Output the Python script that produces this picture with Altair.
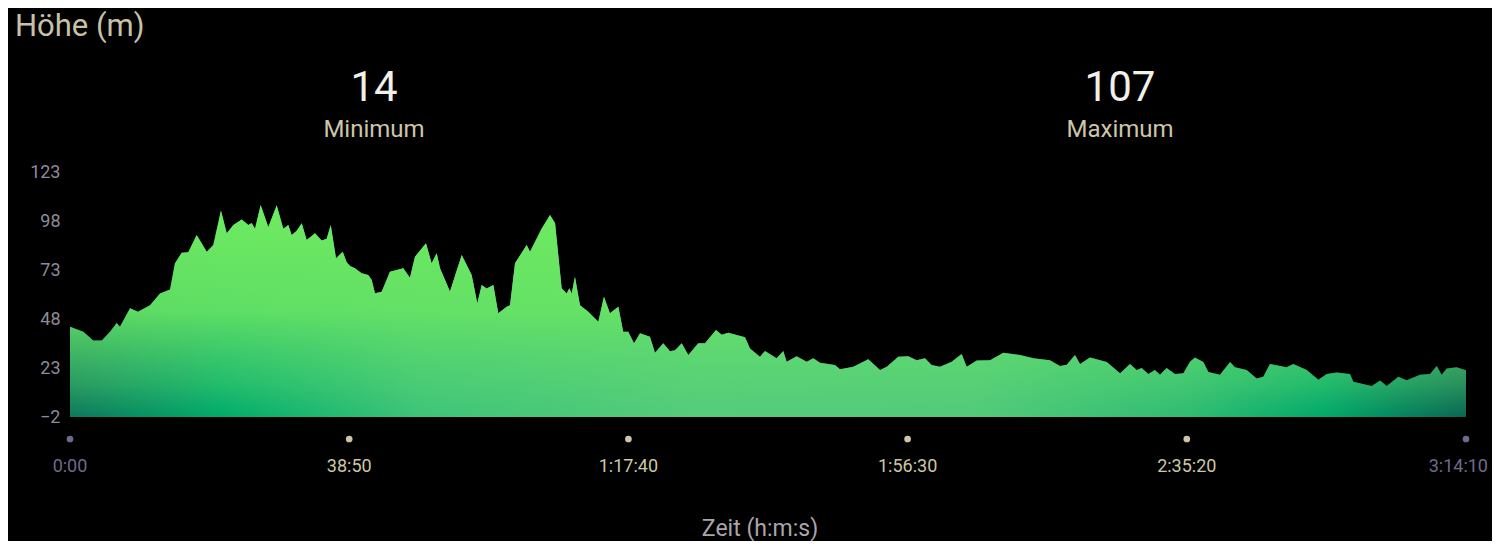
import altair as alt
import pandas as pd

# elapsed time (s) and elevation (m)
time_s = [0, 111, 194, 265, 334, 390, 417, 501, 567, 668, 751, 835, 876, 932, 987, 1057, 1085, 1141, 1196,
          1260, 1308, 1363, 1433, 1488, 1516, 1544, 1591, 1655, 1725, 1780, 1822, 1850, 1892, 1934, 1975,
          2045, 2100, 2142, 2176, 2220, 2276, 2309, 2337, 2378, 2434, 2489, 2518, 2545, 2601, 2670, 2781,
          2837, 2879, 2971, 3018, 3060, 3088, 3171, 3269, 3352, 3399, 3436, 3477, 3533, 3574, 3644, 3672,
          3714, 3811, 3839, 3937, 4006, 4048, 4103, 4145, 4167, 4187, 4214, 4256, 4325, 4409, 4456, 4506,
          4576, 4617, 4659, 4707, 4757, 4840, 4882, 4951, 5007, 5049, 5105, 5160, 5243, 5299, 5391, 5439,
          5494, 5633, 5675, 5758, 5800, 5897, 5953, 5981, 6064, 6148, 6203, 6259, 6384, 6426, 6537, 6662,
          6760, 6816, 6912, 6996, 7066, 7135, 7191, 7260, 7358, 7441, 7483, 7567, 7678, 7789, 7928, 8039,
          8178, 8262, 8318, 8387, 8429, 8512, 8652, 8763, 8846, 8902, 8943, 8999, 9054, 9096, 9152, 9221,
          9291, 9347, 9388, 9458, 9500, 9597, 9681, 9722, 9820, 9903, 9958, 10014, 10153, 10209, 10321,
          10418, 10488, 10571, 10682, 10710, 10863, 10933, 10988, 11085, 11155, 11266, 11350, 11406, 11447,
          11489, 11572, 11650]
elevation = [44, 41.5, 37, 37, 41.5, 46, 44, 53.5, 51.7, 55, 61, 63, 76.4, 81.8, 82, 90.9, 88, 82.3, 85.8,
             103.3, 91.7, 96, 98.8, 96, 97, 94, 106.2, 95, 106, 94, 96, 90.9, 93, 96.8, 88.3,
             91.7, 88, 89, 96, 79, 82.3, 77, 75, 73.9, 71.3, 70.5, 67.9, 61.1, 61.9, 72.1, 73.9,
             69, 79.8, 86.6, 76.4, 81.6, 73.9, 62, 80.7, 70.5, 56, 65.3, 63.6, 65.3, 50.9, 54.3, 55,
             76.4, 85.8, 82.3, 94.2, 101, 96.8, 63.7, 61, 63.7, 61, 69.6, 55, 51.7, 46.6, 59.4, 50.9,
             54.3, 41.5, 41.5, 35.6, 40.7, 39, 30.8, 35.6, 31.6, 32, 35.6, 29.6, 35.6, 35.6, 42.4, 40,
             41, 38.7, 33, 28.8, 31.7, 28, 31.7, 26.2, 29, 26.2, 28, 25.7, 24.5, 22.3, 23.7, 27.5,
             22, 23.6, 28.8, 29, 27, 28, 24.5, 23.6, 26.2, 30.1, 23.6, 26.8, 27, 30.8, 29.6, 28,
             27, 24, 24.6, 29.6, 25, 28.4, 26, 20.3, 25, 22, 23, 20, 22, 19.5, 23, 20,
             20.3, 26.2, 28.4, 26, 21, 19.5, 26, 23.4, 22, 17.7, 18.5, 25, 23.4, 25, 22,
             17, 20, 20.7, 20, 16, 13.8, 16.6, 13.8, 18.5, 16.8, 19.5, 20, 24, 19.5,
             22.7, 23.4, 21.8]

y_ticks = [-2, 23, 48, 73, 98, 123]
x_tick_seconds = [0, 2330, 4660, 6990, 9320, 11650]
x_tick_labels = ["0:00", "38:50", "1:17:40", "1:56:30", "2:35:20", "3:14:10"]
stat_values = ["14", "107"]
stat_names = ["Minimum", "Maximum"]

W, H = 1396, 245
FONT = "Roboto"
BEIGE = "#cdc6a8"
PURPLE = "#6f6a8c"

df = pd.DataFrame({"t": time_s, "elev": elevation})
ticks = pd.DataFrame({"t": x_tick_seconds, "label": x_tick_labels})
ticks["edge"] = (ticks["t"] == x_tick_seconds[0]) | (ticks["t"] == x_tick_seconds[-1])
t_last = x_tick_seconds[-1]

xscale = alt.Scale(domain=[x_tick_seconds[0], x_tick_seconds[-1]], nice=False, zero=False)
yscale = alt.Scale(domain=[y_ticks[0], y_ticks[-1]], nice=False, zero=False)

base_grad = alt.Gradient(
    gradient="linear", x1=0, y1=0, x2=1, y2=0,
    stops=[
        alt.GradientStop(color="#0d785b", offset=0),
        alt.GradientStop(color="#00ac6a", offset=0.11),
        alt.GradientStop(color="#3ec478", offset=0.25),
        alt.GradientStop(color="#55cc7a", offset=0.45),
        alt.GradientStop(color="#52ca7a", offset=0.65),
        alt.GradientStop(color="#30bc72", offset=0.8),
        alt.GradientStop(color="#00a86a", offset=0.9),
        alt.GradientStop(color="#0a6652", offset=1),
    ],
)
top_grad = alt.Gradient(
    gradient="linear", x1=0, y1=0, x2=0, y2=1,
    stops=[
        alt.GradientStop(color="rgba(112,234,96,1)", offset=0),
        alt.GradientStop(color="rgba(104,228,100,0.9)", offset=0.5),
        alt.GradientStop(color="rgba(96,218,112,0.35)", offset=0.85),
        alt.GradientStop(color="rgba(90,210,118,0)", offset=1),
    ],
)

area_base = alt.Chart(df).mark_area(color=base_grad, interpolate="linear").encode(
    x=alt.X("t:Q", scale=xscale, axis=None),
    y=alt.Y("elev:Q", scale=yscale,
            axis=alt.Axis(values=y_ticks, title=None, grid=False, ticks=False, domain=False,
                          labelPadding=10, labelFontSize=18, labelFont=FONT, labelColor="#8e8a9c")),
    y2=alt.datum(y_ticks[0]),
)
area_top = alt.Chart(df).mark_area(color=top_grad, interpolate="linear").encode(
    x=alt.X("t:Q", scale=xscale),
    y=alt.Y("elev:Q", scale=yscale),
    y2=alt.datum(y_ticks[0]),
)

cond_color = alt.condition("datum.edge", alt.value(PURPLE), alt.value(BEIGE))
dots = alt.Chart(ticks).mark_point(filled=True, size=45, opacity=1).encode(
    x=alt.X("t:Q", scale=xscale), y=alt.value(H + 22), color=cond_color)
tick_text = alt.Chart(ticks).transform_filter(f"datum.t < {t_last}").mark_text(
    font=FONT, fontSize=18, baseline="middle").encode(
    x=alt.X("t:Q", scale=xscale), y=alt.value(H + 50), text="label:N", color=cond_color)
tick_text_last = alt.Chart(ticks).transform_filter(f"datum.t >= {t_last}").mark_text(
    font=FONT, fontSize=18, baseline="middle", align="right", dx=22).encode(
    x=alt.X("t:Q", scale=xscale), y=alt.value(H + 50), text="label:N", color=cond_color)

def label(txt, x, y, size, color, align="center", baseline="middle"):
    return alt.Chart(pd.DataFrame({"s": [txt]})).mark_text(
        font=FONT, fontSize=size, color=color, align=align, baseline=baseline).encode(
        x=alt.value(x), y=alt.value(y), text="s:N")

texts = [
    label("Höhe (m)", -55, -136, 31, "#c8c1a8", align="left", baseline="alphabetic"),
    label(stat_values[0], 304, -84, 42, "#f2f0e8"),
    label(stat_names[0], 304, -42, 24, BEIGE),
    label(stat_values[1], 1050, -84, 42, "#f2f0e8"),
    label(stat_names[1], 1050, -42, 24, BEIGE),
    label("Zeit (h:m:s)", 690, H + 119, 23, "#a9a5ab", baseline="alphabetic"),
]

chart = alt.layer(area_base, area_top, dots, tick_text, tick_text_last, *texts).properties(
    width=W, height=H,
    autosize=alt.AutoSizeParams(type="none"),
    padding={"left": 62, "top": 164, "right": 26, "bottom": 124},
    background="#000000",
).configure_view(stroke=None)

chart.save("out.html", embed_options={"renderer": "svg", "actions": False})
